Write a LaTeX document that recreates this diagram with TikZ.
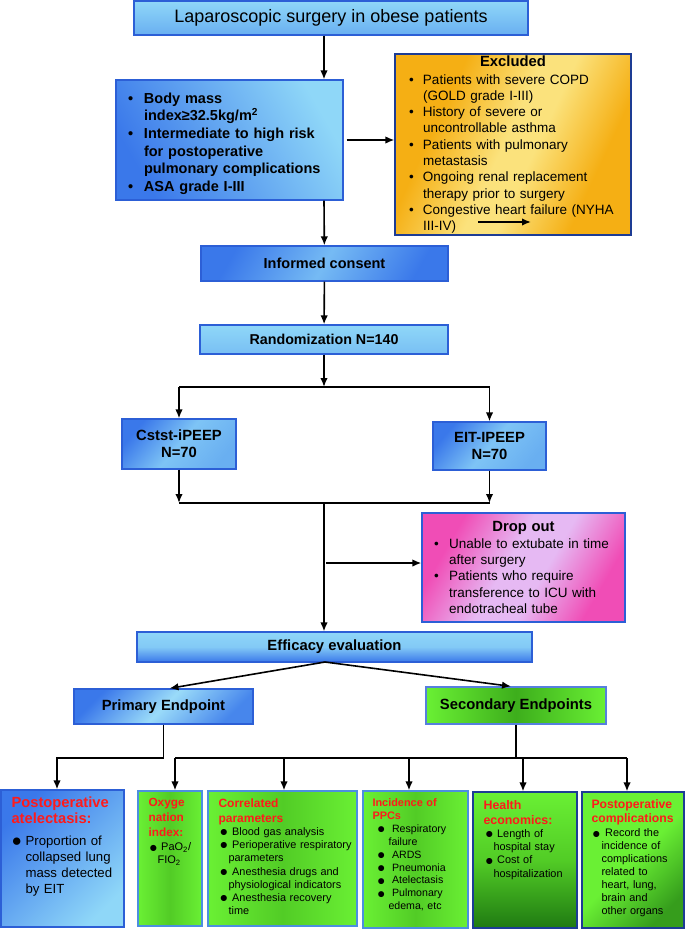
\documentclass[tikz,border=0pt]{standalone}
\usepackage{fontspec}
\usepackage{graphicx}
\setmainfont{Liberation Sans}
\usetikzlibrary{positioning,arrows.meta,calc}

\definecolor{edgeblue}{HTML}{2C5FD6}
\definecolor{edgelight}{HTML}{4C8FE0}
\definecolor{edgenavy}{HTML}{1D3C94}
\definecolor{skylt}{HTML}{8FD7F8}
\definecolor{skymd}{HTML}{69AFF1}
\definecolor{skydk}{HTML}{3A78EA}
\definecolor{limeg}{HTML}{6AF034}
\definecolor{limemd}{HTML}{52CC26}
\definecolor{limedk}{HTML}{3DAE1C}
\definecolor{forest}{HTML}{1F7A12}
\definecolor{goldy}{HTML}{F5AF14}
\definecolor{cream}{HTML}{FBE27C}
\definecolor{rose}{HTML}{F04DB6}
\definecolor{lilac}{HTML}{E6B9F3}
\definecolor{titlered}{HTML}{FF1A1A}

\pgfdeclarehorizontalshading{goldband}{100bp}{color(0bp)=(goldy); color(32bp)=(goldy); color(48bp)=(cream); color(55bp)=(cream); color(70bp)=(goldy); color(100bp)=(goldy)}
\pgfdeclarehorizontalshading{pinkband}{100bp}{color(0bp)=(rose); color(27bp)=(rose); color(45bp)=(lilac); color(56bp)=(lilac); color(73bp)=(rose); color(100bp)=(rose)}

\newlength\pitemhang
\newcommand\pitemsym{•}
\newcommand\bigdot{\raisebox{-0.12em}{\scalebox{1.3}{●}}}
\newcommand\pitem[1][0pt]{\par\noindent\hangindent=\pitemhang\hangafter=1\makebox[\pitemhang][l]{\hspace*{#1}\pitemsym}}
\newcommand\redhead[3]{{\fontsize{#1}{#2}\selectfont\bfseries\color{titlered}#3\par}}

\begin{document}
\begin{tikzpicture}[
    x=1pt, y=-1pt,
    box/.style={draw=edgeblue, line width=1.3pt, inner sep=0pt, align=center,
        font=\fontsize{14.8}{16.7}\selectfont\bfseries},
    listbox/.style={box, align=left, font=\fontsize{13.5}{16.3}\selectfont},
    greenbox/.style={box, draw=edgelight, left color=limeg, right color=limeg, middle color=limemd},
    txt/.style={inner sep=0pt, align=left, anchor=north west},
    items/.style 2 args={execute at begin node={\setlength\pitemhang{#1}\renewcommand\pitemsym{#2}}},
    wire/.style={line width=1.6pt},
    conn/.style={wire, -{Latex[length=9pt,width=7.5pt]}},
    ]
    \path[use as bounding box, fill=white] (0,0) rectangle (685,929);

    \node[box, font=\fontsize{18}{20}\selectfont, top color=skylt, bottom color=skymd,
        minimum width=394pt, minimum height=34pt] (top) at (331,18) {Laparoscopic surgery in obese patients};
    \node[listbox, left color=skydk, right color=skylt, shading angle=120,
        minimum width=227pt, minimum height=120pt, text width=203pt,
        font=\fontsize{14.5}{17.6}\selectfont\bfseries, items={16pt}{•}] (incl) at (229.5,140)
        {\pitem Body mass\newline index≥32.5kg/m\textsuperscript{2}\pitem Intermediate to high risk\newline for postoperative\newline pulmonary complications\pitem ASA grade I-III\par};
    \node[listbox, draw=edgenavy, shading=goldband, shading angle=-25,
        minimum width=236pt, minimum height=181pt, text width=208pt, items={14pt}{•}] (excl) at (513,144.5)
        {{\centering\fontsize{14.8}{18}\selectfont\bfseries Excluded\par}\vspace{1.5pt}\pitem Patients with severe COPD\newline (GOLD grade I-III)\pitem History of severe or\newline uncontrollable asthma\pitem Patients with pulmonary\newline metastasis\pitem Ongoing renal replacement\newline therapy prior to surgery\pitem Congestive heart failure (NYHA\newline III-IV)\par};
    \node[box, left color=skydk, right color=skydk, middle color=skylt!70!skydk, shading angle=60,
        minimum width=247pt, minimum height=35pt, font=\fontsize{14.5}{17}\selectfont\bfseries] (consent) at (324.5,263.5) {Informed consent};
    \node[box, top color=skylt, bottom color=skymd!60!skylt,
        minimum width=248pt, minimum height=29pt, font=\fontsize{14.3}{17}\selectfont\bfseries] (rand) at (324,339.5) {Randomization N=140};
    \node[box, left color=skydk, right color=skymd, middle color=skylt!80!skydk, shading angle=50,
        minimum width=114pt, minimum height=50pt] (cstst) at (179,444) {Cstst-iPEEP\\N=70};
    \node[box, left color=skydk, right color=skymd, middle color=skylt!80!skydk, shading angle=50,
        minimum width=113pt, minimum height=48pt] (eit) at (489.5,446) {EIT-IPEEP\\N=70};
    \node[listbox, shading=pinkband, shading angle=-30,
        minimum width=203pt, minimum height=109pt, text width=179pt, items={15pt}{•}] (drop) at (523.5,567.5)
        {{\centering\fontsize{14.8}{18}\selectfont\bfseries Drop out\par}\vspace{0.5pt}\pitem Unable to extubate in time\newline after surgery\pitem Patients who require\newline transference to ICU with\newline endotracheal tube\par};
    \node[box, top color=skylt, bottom color=skydk, middle color=skylt!85!skydk,
        minimum width=395pt, minimum height=30pt] (eff) at (334.5,647) {Efficacy evaluation};
    \node[box, left color=skydk, right color=skydk!85!skylt, middle color=skylt!90!white, shading angle=45,
        minimum width=179pt, minimum height=35pt] (prim) at (163.5,706.5) {Primary Endpoint};
    \node[greenbox, draw=edgeblue!80!white, middle color=limedk,
        minimum width=180pt, minimum height=37pt] (sec) at (516,705.5) {Secondary Endpoints};

    \node[box, left color=skydk, right color=skylt, shading angle=45,
        minimum width=123pt, minimum height=137pt] (atel) at (62.5,858.5) {};
    \node[greenbox, minimum width=64pt, minimum height=135pt] (oxy) at (170,858.5) {};
    \node[greenbox, minimum width=149pt, minimum height=135pt] (corr) at (282.5,858.5) {};
    \node[greenbox, minimum width=105pt, minimum height=137pt] (ppc) at (415.5,859.5) {};
    \node[box, draw=edgenavy, top color=limeg, bottom color=forest, middle color=limemd,
        minimum width=104pt, minimum height=136pt] (health) at (525,860) {};
    \node[box, draw=edgenavy, left color=limeg, right color=forest!70!limeg, middle color=limeg, shading angle=45,
        minimum width=102pt, minimum height=136pt] (comp) at (633,860) {};

    \node[txt, text width=112pt, font=\fontsize{13.2}{16.3}\selectfont, items={14pt}{\bigdot}] (atel-t) at ([shift={(11,7.5)}]atel.north west)
        {\redhead{14.7}{15.5}{Postoperative\\atelectasis:}\vspace{5.5pt}\pitem Proportion of\newline collapsed lung\newline mass detected\newline by EIT\par};
    \node[txt, text width=52pt, font=\fontsize{11}{13}\selectfont, items={9pt}{\bigdot}] (oxy-t) at ([shift={(11,8)}]oxy.north west)
        {\redhead{11.8}{15}{Oxyge\\nation\\index:}\vspace{1pt}\pitem[0.5pt] PaO\textsubscript{2}/\newline FIO\textsubscript{2}\par};
    \node[txt, text width=136pt, font=\fontsize{10.9}{13.2}\selectfont, items={10pt}{\bigdot}] (corr-t) at ([shift={(11,8)}]corr.north west)
        {\redhead{12}{15}{Correlated\\parameters}\pitem[1pt] Blood gas analysis\pitem[1pt] Perioperative respiratory\newline parameters\pitem[1pt] Anesthesia drugs and\newline physiological indicators\pitem[1pt] Anesthesia recovery\newline time\par};
    \node[txt, text width=94pt, font=\fontsize{10.6}{12.9}\selectfont, items={16pt}{\bigdot}] (ppc-t) at ([shift={(10,8)}]ppc.north west)
        {\redhead{10.9}{13}{Incidence of\\PPCs}\pitem[4.5pt] Respiratory\newline failure\pitem[4.5pt] ARDS\pitem[4.5pt] Pneumonia\pitem[4.5pt] Atelectasis\pitem[4.5pt] Pulmonary\newline edema, etc\par};
    \node[txt, text width=92pt, font=\fontsize{10.9}{13.3}\selectfont, items={10pt}{\bigdot}] (health-t) at ([shift={(11,8.5)}]health.north west)
        {\redhead{12.4}{15}{Health\\economics:}\pitem[1.5pt] Length of\newline hospital stay\pitem[1.5pt] Cost of\newline hospitalization\par};
    \node[txt, text width=90pt, font=\fontsize{10.9}{13}\selectfont, items={10pt}{\bigdot}] (comp-t) at ([shift={(10,8.5)}]comp.north west)
        {\redhead{12.2}{14}{Postoperative\\complications}\vspace{1pt}\pitem[0.5pt] Record the\newline incidence of\newline complications\newline related to\newline heart, lung,\newline brain and\newline other organs\par};

    \coordinate (spine) at (324,0);
    \coordinate (fork) at (324,387);
    \coordinate (join) at (324,503);
    \coordinate (exit) at (326,563);
    \coordinate (split) at (325,662);
    \coordinate (bus) at (0,758);
    \coordinate (atel-in) at (57,758);
    \coordinate (stray-a) at (478,222);
    \coordinate (stray-b) at (531,222);

    \draw[conn] (spine |- top.south) -- (spine |- incl.north);
    \draw[conn] ([xshift=3pt]incl.east) -- (incl.east -| excl.west);
    \draw[conn] (stray-a) -- (stray-b);
    \draw[conn] (spine |- incl.south) -- (consent);
    \draw[conn] (consent) -- (rand);
    \draw[conn] (rand) -- (fork);
    \draw[wire] (fork -| cstst) -- (fork -| eit);
    \draw[conn] (fork -| cstst) -- (cstst);
    \draw[conn] (fork -| eit) -- (eit);
    \draw[conn] (cstst) -- (join -| cstst);
    \draw[conn] (eit) -- (join -| eit);
    \draw[wire] (join -| cstst) -- (join -| eit);
    \draw[conn] (join) -- (join |- eff.north);
    \draw[conn] (exit) -- (exit -| drop.west);
    \draw[conn] (split) -- ([xshift=6pt]prim.north);
    \draw[conn] (split) -- ([xshift=-5pt]sec.north);
    \draw[conn] (prim.south) |- (atel-in) -- (atel-in |- atel.north);
    \draw[wire] (sec.south) -- (sec.south |- bus);
    \foreach \n/\x in {oxy/175,corr/284,ppc/409,health/523,comp/627}
        \coordinate (\n-in) at (\x,758);
    \draw[wire] (oxy-in) -- (comp-in);
    \foreach \n in {oxy,corr,ppc,health,comp}
        \draw[conn] (\n-in) -- (\n-in |- \n.north);

\end{tikzpicture}
\end{document}
